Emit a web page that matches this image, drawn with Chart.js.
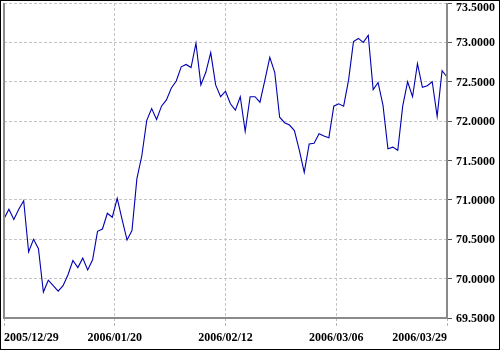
<!DOCTYPE html>
<html>
<head>
<meta charset="utf-8">
<script src="https://cdn.jsdelivr.net/npm/chart.js@4.4.1/dist/chart.umd.min.js"></script>
<style>
  html, body { margin: 0; padding: 0; background: #fff; }
  canvas { display: block; }
</style>
</head>
<body>
<canvas id="grafico" width="500" height="350"></canvas>
<script>
// rotulos do eixo X e posicao (em dias) de cada um
const datas = ['2005/12/29', '2006/01/20', '2006/02/12', '2006/03/06', '2006/03/29'];
const posDatas = [0, 22.5, 45, 67.5, 90];

// valores do eixo Y
const valoresY = [69.5, 70, 70.5, 71, 71.5, 72, 72.5, 73, 73.5];

// cotacao diaria, de 2005/12/29 ate 2006/03/29
const cotacoes = [
  70.76, 70.88, 70.75, 70.88, 70.99, 70.34, 70.50, 70.38, 69.83, 69.98,
  69.91, 69.84, 69.91, 70.05, 70.23, 70.14, 70.26, 70.11, 70.24, 70.60,
  70.63, 70.83, 70.78, 71.02, 70.75, 70.49, 70.61, 71.27, 71.56, 72.01,
  72.16, 72.02, 72.19, 72.27, 72.42, 72.51, 72.69, 72.72, 72.68, 72.99,
  72.46, 72.62, 72.87, 72.46, 72.31, 72.38, 72.22, 72.14, 72.31, 71.87,
  72.31, 72.31, 72.24, 72.52, 72.81, 72.62, 72.05, 71.98, 71.95, 71.88,
  71.63, 71.35, 71.71, 71.72, 71.84, 71.81, 71.79, 72.19, 72.22, 72.19,
  72.52, 73.01, 73.05, 73.00, 73.09, 72.40, 72.49, 72.20, 71.65, 71.67,
  71.63, 72.19, 72.50, 72.31, 72.73, 72.43, 72.45, 72.50, 72.06, 72.64,
  72.56
];

const fonte = { family: "'Liberation Serif', 'DejaVu Serif', serif", size: 12, weight: 'bold' };

// moldura do grafico e rotulos do eixo Y
const moldura = {
  id: 'moldura',
  afterDraw(chart) {
    const { ctx, chartArea: a, scales } = chart;
    ctx.save();
    ctx.font = "bold 12px 'Liberation Serif', 'DejaVu Serif', serif";
    ctx.fillStyle = '#000';
    ctx.textAlign = 'left';
    ctx.textBaseline = 'middle';
    valoresY.forEach(v => {
      const y = Math.max(scales.y.getPixelForValue(v) + 1, 8);
      ctx.fillText(v.toFixed(4), a.right + 9, y);
    });

    ctx.strokeStyle = '#8a8a8a';
    ctx.lineWidth = 2;
    ctx.beginPath();
    ctx.moveTo(a.left, a.top);
    ctx.lineTo(a.left, a.bottom);
    ctx.lineTo(a.right, a.bottom);
    ctx.lineTo(a.right, a.top);
    ctx.stroke();

    ctx.strokeStyle = '#000';
    ctx.lineWidth = 1;
    ctx.strokeRect(0.5, 0.5, 499, 349);
    ctx.restore();
  }
};

const grafico = document.getElementById('grafico');

new Chart(grafico, {
  type: 'line',
  data: {
    datasets: [
      {
        data: cotacoes.map((v, i) => ({ x: i, y: v })),
        borderColor: '#0000b0',
        borderWidth: 1.1,
        pointRadius: 0,
        tension: 0,
        fill: false,
      },
    ],
  },
  options: {
    responsive: false,
    animation: false,
    layout: { padding: { top: 3, left: 4, right: 0, bottom: 0 } },
    plugins: {
      legend: { display: false },
      tooltip: { enabled: false },
    },
    scales: {
      x: {
        type: 'linear',
        min: 0,
        max: 90,
        afterBuildTicks: (scale) => { scale.ticks = posDatas.map(v => ({ value: v })); },
        afterFit: (scale) => { scale.height = 32; },
        grid: { color: '#c4c4c4', tickColor: '#b4b4b4', tickLength: 9, tickBorderDash: [3, 2] },
        border: { display: false, dash: [3, 2] },
        ticks: {
          align: 'inner',
          autoSkip: false,
          maxRotation: 0,
          padding: 4,
          color: '#000',
          font: fonte,
          callback: (v, i) => datas[i],
        },
      },
      y: {
        position: 'right',
        min: 69.5,
        max: 73.5,
        afterBuildTicks: (scale) => { scale.ticks = valoresY.map(v => ({ value: v })); },
        afterFit: (scale) => { scale.width = 53; },
        grid: { color: '#c4c4c4', tickColor: '#555', tickLength: 5, tickBorderDash: [] },
        border: { display: false, dash: [3, 2] },
        ticks: { display: false },
      },
    },
  },
  plugins: [moldura],
});
</script>
</body>
</html>
